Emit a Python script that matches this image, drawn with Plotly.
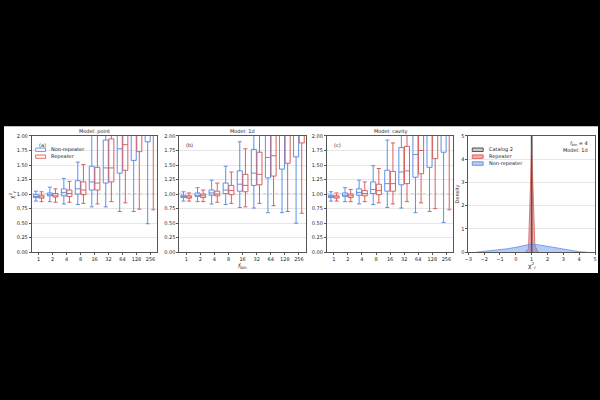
import plotly.graph_objects as go

# ---------------- data ----------------
f_bin_labels = ["1", "2", "4", "8", "16", "32", "64", "128", "256"]
models = ["point", "1d", "cavity"]
panel_letters = ["(a)", "(b)", "(c)"]

# Model: point
point_nonrep_lo = [0.88, 0.87, 0.83, 0.82, 0.78, 0.78, 0.70, 0.70, 0.49]
point_nonrep_q1 = [0.94, 0.97, 0.97, 1.00, 1.07, 1.19, 1.36, 1.58, 1.90]
point_nonrep_med = [0.96, 0.99, 1.03, 1.09, 1.21, 1.45, 1.78, 2.15, 2.40]
point_nonrep_q3 = [0.99, 1.02, 1.09, 1.23, 1.48, 1.93, 2.25, 2.80, 3.20]
point_nonrep_hi = [1.05, 1.12, 1.27, 1.55, 2.10, 2.90, 3.50, 4.20, 5.00]
point_rep_lo = [0.87, 0.86, 0.86, 0.84, 0.83, 0.87, 0.85, 0.74, 0.73]
point_rep_q1 = [0.93, 0.95, 0.96, 0.99, 1.07, 1.21, 1.41, 1.73, 2.05]
point_rep_med = [0.95, 0.97, 1.01, 1.07, 1.19, 1.45, 1.85, 2.20, 2.60]
point_rep_q3 = [0.98, 1.01, 1.07, 1.21, 1.46, 1.95, 2.30, 2.90, 3.40]
point_rep_hi = [1.04, 1.09, 1.22, 1.51, 2.10, 2.90, 3.50, 4.30, 5.20]

# Model: 1d
d1_nonrep_lo = [0.88, 0.87, 0.83, 0.82, 0.77, 0.76, 0.68, 0.68, 0.50]
d1_nonrep_q1 = [0.94, 0.96, 0.98, 1.01, 1.05, 1.15, 1.28, 1.43, 1.64]
d1_nonrep_med = [0.96, 0.98, 1.02, 1.07, 1.17, 1.36, 1.63, 2.05, 2.20]
d1_nonrep_q3 = [0.98, 1.02, 1.07, 1.19, 1.40, 1.77, 2.10, 2.60, 3.00]
d1_nonrep_hi = [1.04, 1.11, 1.24, 1.48, 1.90, 2.60, 3.30, 4.00, 4.80]
d1_rep_lo = [0.88, 0.87, 0.86, 0.84, 0.78, 0.84, 0.80, 0.70, 0.67]
d1_rep_q1 = [0.93, 0.94, 0.97, 0.99, 1.04, 1.16, 1.31, 1.53, 1.88]
d1_rep_med = [0.95, 0.97, 1.00, 1.06, 1.15, 1.34, 1.66, 2.10, 2.30]
d1_rep_q3 = [0.97, 1.00, 1.05, 1.15, 1.34, 1.72, 2.15, 2.70, 3.10]
d1_rep_hi = [1.02, 1.07, 1.19, 1.38, 1.78, 2.60, 3.30, 4.10, 4.90]

# Model: cavity
cav_nonrep_lo = [0.88, 0.87, 0.83, 0.82, 0.77, 0.76, 0.68, 0.70, 0.51]
cav_nonrep_q1 = [0.94, 0.96, 0.98, 1.01, 1.05, 1.16, 1.29, 1.46, 1.72]
cav_nonrep_med = [0.96, 0.98, 1.03, 1.08, 1.18, 1.38, 1.68, 2.10, 2.30]
cav_nonrep_q3 = [0.98, 1.02, 1.09, 1.21, 1.41, 1.80, 2.15, 2.70, 3.10]
cav_nonrep_hi = [1.04, 1.11, 1.24, 1.49, 1.93, 2.70, 3.40, 4.10, 4.90]
cav_rep_lo = [0.88, 0.87, 0.87, 0.85, 0.83, 0.87, 0.85, 0.75, 0.73]
cav_rep_q1 = [0.93, 0.94, 0.97, 0.99, 1.05, 1.18, 1.35, 1.61, 2.05]
cav_rep_med = [0.95, 0.97, 1.01, 1.06, 1.18, 1.40, 1.75, 2.20, 2.60]
cav_rep_q3 = [0.97, 1.00, 1.06, 1.17, 1.39, 1.82, 2.25, 2.80, 3.30]
cav_rep_hi = [1.02, 1.08, 1.21, 1.44, 1.88, 2.70, 3.40, 4.20, 5.00]

# Density panel (f_bin = 4, Model: 1d)
cat2_x = [0.97, 1.00, 1.03]
cat2_y = [0.0, 30.0, 0.0]
rep_x = [0.6, 0.8, 1.0, 1.2, 1.4]
rep_y = [0.0, 0.15, 4.55, 0.30, 0.0]
nonrep_x = [-2.5, -2.0, -1.5, -1.0, -0.5, 0.0, 0.5, 1.0, 1.5, 2.0, 2.5, 3.0, 3.5, 4.0, 4.5]
nonrep_y = [0.0, 0.03, 0.06, 0.10, 0.15, 0.21, 0.28, 0.35, 0.31, 0.25, 0.18, 0.11, 0.06, 0.02, 0.0]

# ---------------- styling ----------------
BLUE = "#5d8fe8"
RED = "#d9605c"
FONT = "DejaVu Sans"
TXTC = "#222222"
TICKFS = 5
TXTFS = 5
W, H = 600, 400


def px(x):
    return x / W


def py(y):
    return 1 - y / H


def tfont(size=TXTFS):
    return dict(family=FONT, size=size, color=TXTC)


panels_x = [(28, 155), (177, 305), (326, 454), (469, 597)]
ytop, ybot = 135, 253

panel_data = [
    ((point_nonrep_lo, point_nonrep_q1, point_nonrep_med, point_nonrep_q3, point_nonrep_hi),
     (point_rep_lo, point_rep_q1, point_rep_med, point_rep_q3, point_rep_hi)),
    ((d1_nonrep_lo, d1_nonrep_q1, d1_nonrep_med, d1_nonrep_q3, d1_nonrep_hi),
     (d1_rep_lo, d1_rep_q1, d1_rep_med, d1_rep_q3, d1_rep_hi)),
    ((cav_nonrep_lo, cav_nonrep_q1, cav_nonrep_med, cav_nonrep_q3, cav_nonrep_hi),
     (cav_rep_lo, cav_rep_q1, cav_rep_med, cav_rep_q3, cav_rep_hi)),
]

fig = go.Figure()
positions = list(range(1, len(f_bin_labels) + 1))

for i, (nonrep, rep) in enumerate(panel_data):
    xa = "x" if i == 0 else f"x{i+1}"
    ya = "y" if i == 0 else f"y{i+1}"
    for stats, col, off in ((nonrep, BLUE, -0.2), (rep, RED, 0.2)):
        lo, q1, med, q3, hi = stats
        fig.add_trace(go.Box(
            x=[p + off for p in positions], q1=q1, median=med, q3=q3,
            lowerfence=lo, upperfence=hi, width=0.36, whiskerwidth=0.8,
            line=dict(color=col, width=1), fillcolor="rgba(255,255,255,0)",
            boxpoints=False, xaxis=xa, yaxis=ya, showlegend=False, hoverinfo="skip"))

for xs, ys, lc, fc in ((cat2_x, cat2_y, "#444444", "rgba(150,150,150,0.5)"),
                       (rep_x, rep_y, RED, "rgba(217,96,92,0.5)"),
                       (nonrep_x, nonrep_y, BLUE, "rgba(93,143,232,0.45)")):
    fig.add_trace(go.Scatter(x=xs, y=ys, mode="lines", fill="tozeroy",
                             line=dict(color=lc, width=0.8), fillcolor=fc,
                             xaxis="x4", yaxis="y4", showlegend=False, hoverinfo="skip"))

axis_common = dict(showline=True, mirror=True, linecolor="#555555", linewidth=0.8,
                   ticks="outside", ticklen=2, tickwidth=0.6, tickcolor="#555555",
                   tickfont=tfont(TICKFS), zeroline=False)

layout = dict(width=W, height=H, margin=dict(l=0, r=0, t=0, b=0),
              paper_bgcolor="black", plot_bgcolor="white", showlegend=False,
              font=dict(family=FONT, size=TXTFS, color=TXTC))

for i, (x0, x1) in enumerate(panels_x):
    xk = "xaxis" if i == 0 else f"xaxis{i+1}"
    yk = "yaxis" if i == 0 else f"yaxis{i+1}"
    xanchor = "y" if i == 0 else f"y{i+1}"
    yanchor = "x" if i == 0 else f"x{i+1}"
    if i < 3:
        layout[xk] = dict(domain=[px(x0), px(x1)], anchor=xanchor, range=[0.5, 9.5],
                          tickmode="array", tickvals=positions, ticktext=f_bin_labels,
                          showgrid=False, **axis_common)
        layout[yk] = dict(domain=[py(ybot), py(ytop)], anchor=yanchor, range=[0, 2],
                          tickmode="array", tickvals=[k * 0.25 for k in range(9)],
                          tickformat=".2f", showgrid=True, gridcolor="#e6e6e6",
                          gridwidth=0.6, **axis_common)
    else:
        layout[xk] = dict(domain=[px(x0), px(x1)], anchor=xanchor, range=[-3, 5],
                          tickmode="array", tickvals=list(range(-3, 6)),
                          ticktext=["\u22123", "\u22122", "\u22121", "0", "1", "2", "3", "4", "5"],
                          showgrid=False, **axis_common)
        layout[yk] = dict(domain=[py(ybot), py(ytop)], anchor=yanchor, range=[0, 5],
                          tickmode="array", tickvals=list(range(6)),
                          showgrid=True, gridcolor="#e6e6e6", gridwidth=0.6, **axis_common)

fig.update_layout(**layout)

shapes = [dict(type="rect", xref="paper", yref="paper", x0=0, x1=1, y0=py(274), y1=py(125),
               fillcolor="white", line=dict(width=0), layer="below")]
annotations = []

# dotted reference line at chi2 = 1 in panels a-c
for i in range(3):
    xr = "x" if i == 0 else f"x{i+1}"
    yr = "y" if i == 0 else f"y{i+1}"
    shapes.append(dict(type="line", xref=f"{xr} domain", yref=yr, x0=0, x1=1, y0=1, y1=1,
                       line=dict(color="#888888", width=0.8, dash="dot"), layer="below"))
    x0, x1 = panels_x[i]
    annotations.append(dict(text=f"Model: {models[i]}", xref="paper", yref="paper",
                            x=px((x0 + x1) / 2), y=py(130), showarrow=False,
                            font=tfont(), xanchor="center", yanchor="middle"))
    annotations.append(dict(text=panel_letters[i], xref="paper", yref="paper",
                            x=px(x0 + 5), y=py(144), showarrow=False,
                            font=tfont(), xanchor="left", yanchor="middle"))

# vertical line at chi2=1 in density panel
shapes.append(dict(type="line", xref="x4", yref="y4 domain", x0=1, x1=1, y0=0, y1=1,
                   line=dict(color="#444444", width=0.8)))

# panel (a) legend
for yy, col, lab in ((149, BLUE, "Non-repeater"), (156, RED, "Repeater")):
    shapes.append(dict(type="rect", xref="paper", yref="paper", x0=px(32), x1=px(42),
                       y0=py(yy + 1.7), y1=py(yy - 1.7), line=dict(color=col, width=0.9),
                       fillcolor="white"))
    annotations.append(dict(text=lab, xref="paper", yref="paper", x=px(45.5), y=py(yy),
                            showarrow=False, font=tfont(), xanchor="left",
                            yanchor="middle"))

# panel (d) legend
for yy, lc, fc, lab in ((149, "#444444", "rgba(150,150,150,0.5)", "Catalog 2"),
                        (156, RED, "rgba(217,96,92,0.5)", "Repeater"),
                        (163, BLUE, "rgba(93,143,232,0.45)", "Non-repeater")):
    shapes.append(dict(type="rect", xref="paper", yref="paper", x0=px(473), x1=px(484),
                       y0=py(yy + 1.8), y1=py(yy - 1.8), line=dict(color=lc, width=0.9),
                       fillcolor=fc))
    annotations.append(dict(text=lab, xref="paper", yref="paper", x=px(487.5), y=py(yy),
                            showarrow=False, font=tfont(), xanchor="left",
                            yanchor="middle"))

annotations.append(dict(text="<i>f</i><sub>bin</sub> = 4", xref="paper", yref="paper",
                        x=px(592), y=py(142.5), showarrow=False, font=tfont(),
                        xanchor="right", yanchor="middle"))
annotations.append(dict(text="Model: 1d", xref="paper", yref="paper",
                        x=px(592), y=py(149), showarrow=False, font=tfont(),
                        xanchor="right", yanchor="middle"))

# axis titles
annotations.append(dict(text="\u03c7<sup>2</sup><sub>r</sub>", xref="paper", yref="paper",
                        x=px(8), y=py(195), showarrow=False, textangle=-90,
                        font=tfont(6), xanchor="center", yanchor="middle"))
annotations.append(dict(text="<i>f</i><sub>bin</sub>", xref="paper", yref="paper",
                        x=px(241), y=py(267), showarrow=False,
                        font=tfont(6), xanchor="center", yanchor="middle"))
annotations.append(dict(text="\u03c7<sup>2</sup><sub>r</sub>", xref="paper", yref="paper",
                        x=px(533), y=py(267), showarrow=False,
                        font=tfont(6), xanchor="center", yanchor="middle"))
annotations.append(dict(text="Density", xref="paper", yref="paper",
                        x=px(458), y=py(194), showarrow=False, textangle=-90,
                        font=tfont(), xanchor="center", yanchor="middle"))

fig.update_layout(shapes=shapes, annotations=annotations)
fig.write_html("out.html")
